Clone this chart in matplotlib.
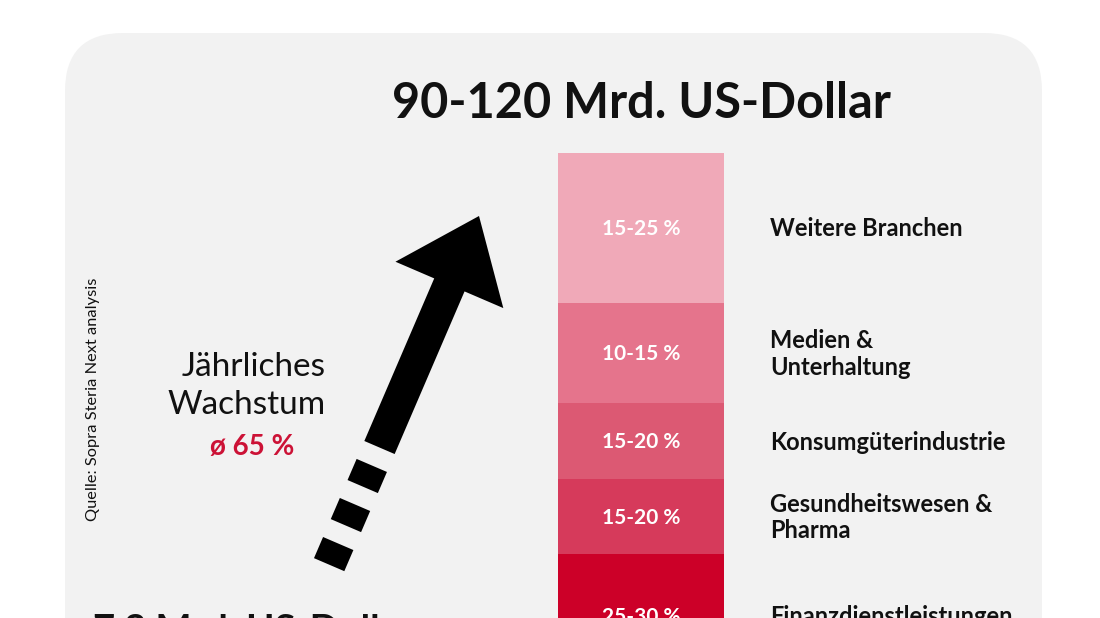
import numpy as np
import matplotlib
matplotlib.use("Agg")
import matplotlib.pyplot as plt
from matplotlib.patches import FancyBboxPatch, Polygon

plt.rcParams['font.family'] = ['Lato', 'DejaVu Sans']

# Daten: Marktanteile nach Branche (von oben nach unten)
branchen = ["Weitere Branchen", "Medien &\nUnterhaltung", "Konsumgüterindustrie",
            "Gesundheitswesen &\nPharma", "Finanzdienstleistungen"]
anteile = ["15-25 %", "10-15 %", "15-20 %", "15-20 %", "25-30 %"]
# Segmenthöhen im Bild (relative Anteile)
segment_hoehen = [150, 100, 76, 75, 124]
farben = ["#f0a9b8", "#e5748c", "#dc5973", "#d63a5b", "#cc0028"]

titel_oben = "90-120 Mrd. US-Dollar"
titel_unten = "7,3 Mrd. US-Dollar"
wachstum = "Jährliches\nWachstum"
wachstum_wert = "ø 65 %"
quelle = "Quelle: Sopra Steria Next analysis"

fig = plt.figure(figsize=(11, 6.18), dpi=100)
fig.patch.set_facecolor("white")
ax = fig.add_axes([0, 0, 1, 1])
ax.set_xlim(0, 1100)
ax.set_ylim(618, 0)
ax.axis("off")

# Hintergrundpanel mit runden Ecken
panel = FancyBboxPatch((65, 33), 977, 700, boxstyle="round,pad=0,rounding_size=58",
                       facecolor="#f2f2f2", edgecolor="none", zorder=0)
ax.add_patch(panel)

# gestapelter Balken
bar_x = 641
bar_w = 166
bottoms = 153 + np.concatenate([[0], np.cumsum(segment_hoehen)[:-1]])
ax.bar(bar_x, segment_hoehen, width=bar_w, bottom=bottoms, color=farben,
       linewidth=0, zorder=2)

mitten = bottoms + np.array(segment_hoehen) / 2
for m, a, b in zip(mitten, anteile, branchen):
    ax.text(bar_x, m + 1, a, color="white", fontsize=15, fontweight="bold",
            ha="center", va="center", zorder=3)
    ax.text(770, m + 1, b, color="#111111", fontsize=17, fontweight="bold",
            ha="left", va="center", linespacing=1.18, zorder=3)

ax.text(641, 103, titel_oben, fontsize=35, fontweight="bold", color="#111111",
        ha="center", va="center")
ax.text(93, 641, titel_unten, fontsize=27.5, fontweight="bold", color="#111111",
        ha="left", va="baseline")

ax.text(326, 386, wachstum, fontsize=24, fontweight="normal", color="#111111",
        ha="right", va="center", linespacing=1.3)
ax.text(252, 447, wachstum_wert, fontsize=20, fontweight="bold", color="#cc1236",
        ha="center", va="center")

ax.text(93, 399, quelle, fontsize=11.8, rotation=90, color="#111111",
        ha="center", va="center")

# Pfeil (Form in Pixelkoordinaten)
spitze = np.array([479.0, 216.0])
richtung = np.array([99.5, -231.5])
u = richtung / np.linalg.norm(richtung)
p = np.array([-u[1], u[0]])
kopf_laenge = 75
kopf_halb = 58.7
schaft_halb = 16.5
schaft_laenge = 177
basis = spitze - u * kopf_laenge
ende = basis - u * schaft_laenge
pfeil = [spitze, basis + p * kopf_halb, basis + p * schaft_halb, ende + p * schaft_halb,
         ende - p * schaft_halb, basis - p * schaft_halb, basis - p * kopf_halb]
ax.add_patch(Polygon(pfeil, closed=True, facecolor="black", edgecolor="none", zorder=2))

strich_laenge = 23
luecke = 19.5
for i in range(3):
    s0 = ende - u * (luecke + i * (strich_laenge + luecke))
    s1 = s0 - u * strich_laenge
    strich = [s0 + p * schaft_halb, s1 + p * schaft_halb, s1 - p * schaft_halb,
              s0 - p * schaft_halb]
    ax.add_patch(Polygon(strich, closed=True, facecolor="black", edgecolor="none", zorder=2))

fig.savefig("out.png", dpi=100, facecolor="white")
